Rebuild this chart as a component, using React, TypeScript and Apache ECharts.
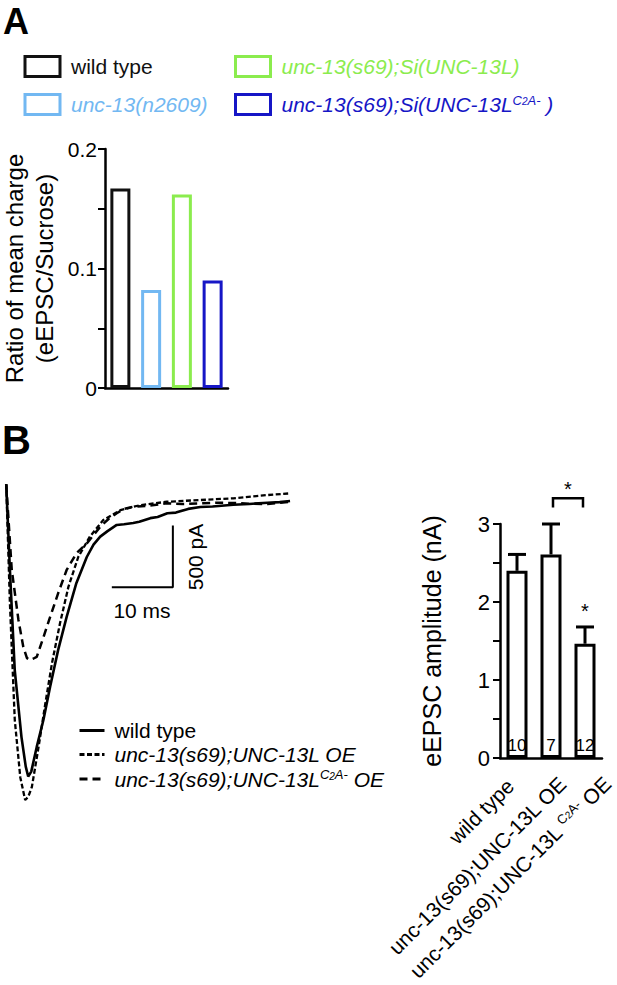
import React, { useEffect, useRef } from "react";
import * as echarts from "echarts";

const FONT = "Arial, 'Liberation Sans', Helvetica, sans-serif";

// ---- Panel A data ----
const ratioCategories = [
  "wild type",
  "unc-13(n2609)",
  "unc-13(s69);Si(UNC-13L)",
  "unc-13(s69);Si(UNC-13L C2A-)",
];
const ratioValues = [0.167, 0.082, 0.162, 0.09];
const ratioColors = ["#111111", "#72b8f2", "#8bec4e", "#1616c6"];
const ratioTicks = [0, 0.1, 0.2];

// ---- Panel B traces (time ms, current pA) ----
const traceNames = [
  "wild type ",
  "unc-13(s69);UNC-13L OE",
  "unc-13(s69);UNC-13L C2A- OE",
];
const traceWT: number[][] = [
  [0.2, 90], [0.8, -600], [1.6, -1420], [2.7, -1960], [3.4, -2200], [3.8, -2280],
  [4.3, -2240], [5.2, -2040], [6.3, -1820], [7.4, -1550], [8.7, -1255], [10.1, -985],
  [11.7, -710], [13.4, -500], [14.5, -400], [15.6, -335], [16.8, -290], [18.3, -240],
  [19.5, -235], [21.0, -225], [22.0, -215], [23.8, -185], [25.0, -175], [26.6, -145],
  [28.0, -140], [30.0, -110], [32.0, -95], [34.0, -90], [37.4, -76], [40.0, -70],
  [43.0, -60], [45.0, -55], [46.7, -46],
];
const traceOE: number[][] = [
  [0.2, 90], [0.8, -870], [1.6, -1820], [2.5, -2285], [3.3, -2470], [3.8, -2445],
  [4.4, -2365], [5.5, -2040], [6.6, -1690], [7.7, -1360], [9.0, -1040], [10.4, -740],
  [12.0, -500], [13.9, -335], [16.1, -200], [18.9, -120], [22.1, -80], [26.5, -52],
  [32.0, -38], [37.4, -24], [42.9, 2], [46.7, 16],
];
const traceC2A: number[][] = [
  [0.2, 90], [1.1, -600], [2.2, -1010], [3.0, -1230], [3.6, -1320], [4.1, -1335],
  [4.6, -1325], [5.2, -1310], [6.3, -1150], [7.4, -985], [8.7, -795], [10.1, -605],
  [11.7, -470], [13.4, -390], [15.6, -255], [17.0, -190], [18.3, -145], [19.5, -110],
  [21.0, -92], [23.5, -85], [26.5, -65], [29.0, -70], [32.0, -65], [35.0, -60],
  [37.4, -62], [40.0, -68], [43.0, -70], [45.0, -60], [46.7, -52],
];
const scaleBar: number[][] = [[17.5, -745], [27.5, -745], [27.5, -245]];

// ---- Panel B bars ----
const ampCategories = ["wild type", "unc-13(s69);UNC-13L OE", "unc-13(s69);UNC-13L C2A- OE"];
const ampMeans = [2.4, 2.61, 1.465];
const ampSem = [0.21, 0.39, 0.215];
const ampN = [10, 7, 12];
const ampTicks = [0, 1, 2, 3];
const sigBracket = [[1, 2, 3.33, 3.21]];
const sigStars = [[1, 2, 3.5], [2, 2, 1.93]];

function legendALabel(name: string): string {
  if (name === ratioCategories[0]) return `{k|${name}}`;
  if (name === ratioCategories[1]) return `{lb|${name}}`;
  if (name === ratioCategories[2]) return `{g|${name}}`;
  return "{b|unc-13(s69);Si(UNC-13L}{bs|C}{bt|2}{bs|A-}{b| )}";
}
function legendBLabel(name: string): string {
  if (name === traceNames[0]) return "{n|wild type}";
  if (name === traceNames[1]) return `{i|${name}}`;
  return "{i|unc-13(s69);UNC-13L}{is|C}{it|2}{is|A-}{i| OE}";
}
function ampLabel(name: string): string {
  if (name === ampCategories[2]) return "{n|unc-13(s69);UNC-13L }{s|C}{t|2}{s|A-}{n| OE}";
  return `{n|${name}}`;
}

export default function App() {
  const ref = useRef<HTMLDivElement>(null);
  useEffect(() => {
    if (!ref.current) return;
    const chart = echarts.init(ref.current, undefined, { renderer: "svg" });
    const legendRichBase = { fontSize: 21, fontFamily: FONT, lineHeight: 22 };
    const gridBase = { containLabel: false, outerBoundsMode: "none" };
    // label offsets (padding) that spread the slanted labels as in the figure
    const labelPads = [
      [25, 22, 0, 0],
      [48, 8, 0, 0],
      [63, 0, 0, 0],
    ];
    const option: any = {
      animation: false,
      backgroundColor: "#ffffff",
      textStyle: { fontFamily: FONT },
      graphic: [
        { type: "text", x: 3, y: 3, style: { text: "A", fontSize: 36, fontWeight: "bold", fontFamily: FONT, fill: "#000" } },
        { type: "text", x: 2, y: 420, style: { text: "B", fontSize: 40, fontWeight: "bold", fontFamily: FONT, fill: "#000" } },
        { type: "text", x: 142, y: 610, style: { text: "10 ms", fontSize: 21, fontFamily: FONT, fill: "#000", align: "center", verticalAlign: "middle" } },
        { type: "text", x: 195, y: 557, rotation: Math.PI / 2, style: { text: "500 pA", fontSize: 21, fontFamily: FONT, fill: "#000", align: "center", verticalAlign: "middle" } },
      ],
      legend: [
        {
          left: 18.5, top: 50, orient: "vertical", icon: "rect", itemWidth: 35, itemHeight: 20, itemGap: 15,
          selectedMode: false, data: [ratioCategories[0], ratioCategories[1]],
          itemStyle: { borderWidth: 3 },
          formatter: legendALabel,
          textStyle: {
            padding: [0, 0, 0, 6],
            rich: {
              k: { ...legendRichBase, color: "#111" },
              lb: { ...legendRichBase, color: ratioColors[1], fontStyle: "italic" },
            },
          },
        },
        {
          left: 229, top: 50, orient: "vertical", icon: "rect", itemWidth: 35, itemHeight: 20, itemGap: 15,
          selectedMode: false, data: [ratioCategories[2], ratioCategories[3]],
          itemStyle: { borderWidth: 3 },
          formatter: legendALabel,
          textStyle: {
            padding: [0, 0, 0, 6],
            rich: {
              g: { ...legendRichBase, color: ratioColors[2], fontStyle: "italic" },
              b: { ...legendRichBase, color: ratioColors[3], fontStyle: "italic" },
              bs: { fontSize: 13, fontFamily: FONT, color: ratioColors[3], fontStyle: "italic", verticalAlign: "top", lineHeight: 22 },
              bt: { fontSize: 10, fontFamily: FONT, color: ratioColors[3], fontStyle: "italic", verticalAlign: "top", lineHeight: 22, padding: [3, 0, 0, 0] },
            },
          },
        },
        {
          left: 73, top: 715, orient: "vertical", itemWidth: 25, itemHeight: 14, itemGap: 3,
          selectedMode: false, data: traceNames,
          lineStyle: { width: 3 },
          itemStyle: { color: "rgba(0,0,0,0)", borderWidth: 0, opacity: 0 },
          formatter: legendBLabel,
          textStyle: {
            padding: [0, 0, 0, 5],
            rich: {
              n: { ...legendRichBase, color: "#000" },
              i: { ...legendRichBase, color: "#000", fontStyle: "italic" },
              is: { fontSize: 13, fontFamily: FONT, color: "#000", fontStyle: "italic", verticalAlign: "top", lineHeight: 22 },
              it: { fontSize: 10, fontFamily: FONT, color: "#000", fontStyle: "italic", verticalAlign: "top", lineHeight: 22, padding: [3, 0, 0, 0] },
            },
          },
        },
      ],
      grid: [
        { ...gridBase, left: 105, top: 149, width: 123, height: 239 },
        { ...gridBase, left: 5, top: 483, width: 293, height: 333 },
        { ...gridBase, left: 500, top: 524, width: 102, height: 234 },
      ],
      xAxis: [
        {
          type: "category", gridIndex: 0, data: ratioCategories,
          axisLine: { lineStyle: { color: "#000", width: 2.5 } },
          axisTick: { alignWithLabel: true, length: 8, lineStyle: { color: "#000", width: 2 } },
          axisLabel: { show: false },
        },
        { type: "value", gridIndex: 1, min: 0, max: 48, show: false },
        {
          type: "category", gridIndex: 2,
          data: ampCategories.map((c, i) => ({ value: c, textStyle: { padding: labelPads[i] } })),
          axisLine: { lineStyle: { color: "#000", width: 2.5 } },
          axisTick: { alignWithLabel: true, length: 7, lineStyle: { color: "#000", width: 2 } },
          axisLabel: {
            interval: 0, rotate: 45, margin: 0, formatter: ampLabel, hideOverlap: false,
            rich: {
              n: { fontSize: 21, fontFamily: FONT, color: "#000", lineHeight: 22 },
              s: { fontSize: 13, fontFamily: FONT, color: "#000", verticalAlign: "top", lineHeight: 22 },
              t: { fontSize: 10, fontFamily: FONT, color: "#000", verticalAlign: "top", lineHeight: 22, padding: [3, 0, 0, 0] },
            },
          },
        },
      ],
      yAxis: [
        {
          type: "value", gridIndex: 0, min: 0, max: 0.2, interval: 0.05,
          axisLine: { show: true, lineStyle: { color: "#000", width: 2.5 } },
          axisTick: { show: true, length: 7, lineStyle: { color: "#000", width: 2 } },
          splitLine: { show: false },
          axisLabel: {
            margin: 8, fontSize: 21, color: "#000", fontFamily: FONT,
            formatter: (v: number) => (ratioTicks.some((t) => Math.abs(t - v) < 1e-9) ? String(Math.round(v * 10) / 10) : ""),
          },
          name: "Ratio of mean charge\n(eEPSC/Sucrose)", nameLocation: "middle", nameGap: 46,
          nameTextStyle: { fontSize: 24, lineHeight: 30, color: "#000", fontFamily: FONT },
        },
        { type: "value", gridIndex: 1, min: -2600, max: 100, show: false },
        {
          type: "value", gridIndex: 2, min: 0, max: 3, interval: 0.5,
          axisLine: { show: true, lineStyle: { color: "#000", width: 2.5 } },
          axisTick: { show: true, length: 7, lineStyle: { color: "#000", width: 2 } },
          splitLine: { show: false },
          axisLabel: {
            margin: 10, fontSize: 22, color: "#000", fontFamily: FONT,
            formatter: (v: number) => (ampTicks.some((t) => Math.abs(t - v) < 1e-9) ? String(Math.round(v)) : ""),
          },
          name: "eEPSC amplitude (nA)", nameLocation: "middle", nameGap: 56,
          nameTextStyle: { fontSize: 25, color: "#000", fontFamily: FONT },
        },
      ],
      series: [
        ...ratioCategories.map((name, i) => ({
          type: "bar", name, xAxisIndex: 0, yAxisIndex: 0,
          data: ratioCategories.map((_, j) => (j === i ? ratioValues[i] : "-")),
          barWidth: 20, barGap: "-100%",
          itemStyle: { color: "rgba(255,255,255,0)", borderColor: ratioColors[i], borderWidth: 3 },
        })),
        {
          type: "line", name: traceNames[2], xAxisIndex: 1, yAxisIndex: 1, data: traceC2A,
          symbol: "none", showSymbol: false,
          lineStyle: { color: "#000", width: 2.5, type: [8, 5] }, itemStyle: { color: "#000" },
        },
        {
          type: "line", name: traceNames[0], xAxisIndex: 1, yAxisIndex: 1, data: traceWT,
          symbol: "none", showSymbol: false,
          lineStyle: { color: "#000", width: 2.6, type: "solid" }, itemStyle: { color: "#000" },
        },
        {
          type: "line", name: traceNames[1], xAxisIndex: 1, yAxisIndex: 1, data: traceOE,
          symbol: "none", showSymbol: false,
          lineStyle: { color: "#000", width: 2.3, type: [5, 2.5] }, itemStyle: { color: "#000" },
        },
        {
          type: "line", name: "scale", xAxisIndex: 1, yAxisIndex: 1, data: scaleBar,
          symbol: "none", showSymbol: false, lineStyle: { color: "#000", width: 2 },
        },
        {
          type: "bar", name: "amp", xAxisIndex: 2, yAxisIndex: 2, data: ampMeans, barWidth: 21,
          itemStyle: { color: "#fff", borderColor: "#000", borderWidth: 3 },
          label: {
            show: true, position: "insideBottom", distance: 4, fontSize: 17, color: "#000", fontFamily: FONT,
            formatter: (p: any) => String(ampN[p.dataIndex]),
          },
        },
        {
          type: "custom", name: "sem", xAxisIndex: 2, yAxisIndex: 2, clip: false,
          data: ampMeans.map((m, i) => [i, m, m + ampSem[i]]),
          renderItem: (params: any, api: any) => {
            const base = api.coord([api.value(0), api.value(1)]);
            const top = api.coord([api.value(0), api.value(2)]);
            const half = 9;
            return {
              type: "group",
              children: [
                { type: "line", shape: { x1: base[0], y1: base[1], x2: base[0], y2: top[1] }, style: { stroke: "#000", lineWidth: 3 } },
                { type: "line", shape: { x1: base[0] - half, y1: top[1], x2: base[0] + half, y2: top[1] }, style: { stroke: "#000", lineWidth: 3 } },
              ],
            };
          },
        },
        {
          type: "custom", name: "bracket", xAxisIndex: 2, yAxisIndex: 2, clip: false,
          data: sigBracket,
          renderItem: (params: any, api: any) => {
            const a = api.coord([api.value(0), api.value(2)]);
            const b = api.coord([api.value(1), api.value(2)]);
            const legA = api.coord([api.value(0), api.value(3)]);
            const x1 = a[0] + 2;
            const x2 = b[0] - 2;
            return {
              type: "polyline",
              shape: { points: [[x1, legA[1]], [x1, a[1]], [x2, a[1]], [x2, legA[1]]] },
              style: { stroke: "#000", lineWidth: 2.5, fill: "none" },
            };
          },
        },
        {
          type: "custom", name: "stars", xAxisIndex: 2, yAxisIndex: 2, clip: false,
          data: sigStars,
          renderItem: (params: any, api: any) => {
            const a = api.coord([api.value(0), api.value(2)]);
            const b = api.coord([api.value(1), api.value(2)]);
            return {
              type: "text",
              x: (a[0] + b[0]) / 2,
              y: a[1] - 6,
              style: { text: "*", fontSize: 20, fontFamily: FONT, fill: "#000", align: "center", verticalAlign: "top" },
            };
          },
        },
      ],
    };
    chart.setOption(option);
    return () => chart.dispose();
  }, []);
  return (
    <div
      ref={ref}
      style={{ position: "fixed", left: 0, top: 0, width: 617, height: 985, background: "#fff" }}
    />
  );
}
